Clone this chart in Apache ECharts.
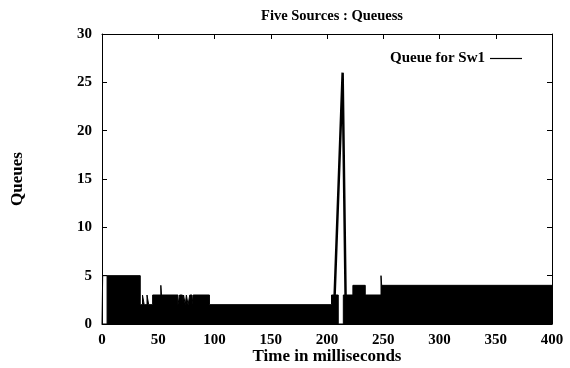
<!DOCTYPE html>
<html>
<head>
<meta charset="utf-8">
<script src="https://cdn.jsdelivr.net/npm/echarts@6/dist/echarts.min.js"></script>
<style>
  html, body { margin: 0; padding: 0; background: #fff; }
  #chart { width: 570px; height: 368px; }
</style>
</head>
<body>
<div id="chart"></div>
<script>
// Upper envelope of the switch queue (step-wise, value holds until next time)
const envTimes = [0, 4.5, 34, 36, 37.5, 40, 41.5, 45, 52.3, 52.9, 67.5, 69, 71.5, 72.5, 74, 75, 76.5, 78, 80, 81, 95.5,
                  204, 210, 214.5, 223, 234, 248, 248.6, 400];
const envQueue = [0, 5, 2, 3, 2, 3, 2, 3, 4, 3, 2, 3, 2, 3, 2, 3, 2, 3, 2, 3, 2,
                  3, 0, 3, 4, 3, 5, 4, 4];

// Held (non-oscillating) stretches drawn as plain lines
const startTimes = [0, 0.6, 4.5];
const startQueue = [0, 5, 5];
const burstTimes = [206.8, 213.9, 216.5];
const burstQueue = [3, 26, 3];

const xTicks = { min: 0, max: 400, interval: 50 };
const yTicks = { min: 0, max: 30, interval: 5 };

const seriesName = 'Queue for Sw1';
const font = 'Liberation Serif';

const zip = (t, v) => t.map((x, i) => [x, v[i]]);

const chart = echarts.init(document.getElementById('chart'), null, { renderer: 'canvas' });

const labelStyle = { fontFamily: font, fontWeight: 'bold', fontSize: 15, color: '#000' };
const nameStyle = { fontFamily: font, fontWeight: 'bold', fontSize: 17, color: '#000' };
const frameLine = { show: true, onZero: false, lineStyle: { color: '#000', width: 1 } };
const innerTick = { show: true, inside: true, length: 5, lineStyle: { color: '#000' } };

chart.setOption({
  animation: false,
  backgroundColor: '#fff',
  title: {
    text: 'Five Sources : Queuess',
    left: 327, top: 4, textAlign: 'center',
    textStyle: { fontFamily: font, fontWeight: 'bold', fontSize: 14.5, color: '#000' }
  },
  legend: {
    data: [{ name: seriesName, icon: 'rect' }],
    right: 43, top: 46,
    align: 'right',
    itemWidth: 32, itemHeight: 1.2, itemGap: 8,
    textStyle: { fontFamily: font, fontWeight: 'bold', fontSize: 15, color: '#000' }
  },
  grid: { left: 102, right: 18, top: 34, bottom: 44, containLabel: false, outerBoundsMode: 'none' },
  xAxis: [{
    type: 'value', min: xTicks.min, max: xTicks.max, interval: xTicks.interval,
    name: 'Time in milliseconds', nameLocation: 'middle', nameGap: 24, nameMoveOverlap: false,
    nameTextStyle: nameStyle,
    axisLine: frameLine,
    axisTick: innerTick,
    axisLabel: Object.assign({ margin: 9 }, labelStyle),
    splitLine: { show: false }
  }, {
    type: 'value', position: 'top', min: xTicks.min, max: xTicks.max, interval: xTicks.interval,
    axisLine: frameLine,
    axisTick: innerTick,
    axisLabel: { show: false },
    splitLine: { show: false }
  }],
  yAxis: [{
    type: 'value', min: yTicks.min, max: yTicks.max, interval: yTicks.interval,
    name: 'Queues', nameLocation: 'middle', nameGap: 76, nameRotate: 90, nameMoveOverlap: false,
    nameTextStyle: nameStyle,
    axisLine: frameLine,
    axisTick: innerTick,
    axisLabel: Object.assign({ margin: 10 }, labelStyle),
    splitLine: { show: false }
  }, {
    type: 'value', position: 'right', min: yTicks.min, max: yTicks.max, interval: yTicks.interval,
    axisLine: frameLine,
    axisTick: innerTick,
    axisLabel: { show: false },
    splitLine: { show: false }
  }],
  series: [{
    name: seriesName, type: 'line', step: 'end',
    data: zip(envTimes, envQueue),
    showSymbol: false, symbol: 'none',
    color: '#000',
    lineStyle: { color: '#000', width: 1 },
    areaStyle: { color: '#000', opacity: 1 },
    z: 2
  }, {
    name: seriesName, type: 'line',
    data: zip(startTimes, startQueue),
    showSymbol: false, symbol: 'none',
    color: '#000',
    lineStyle: { color: '#000', width: 1 },
    z: 3
  }, {
    name: seriesName, type: 'line',
    data: zip(burstTimes, burstQueue),
    showSymbol: false, symbol: 'none',
    color: '#000',
    lineStyle: { color: '#000', width: 2.5, join: 'bevel' },
    z: 3
  }]
});
</script>
</body>
</html>
